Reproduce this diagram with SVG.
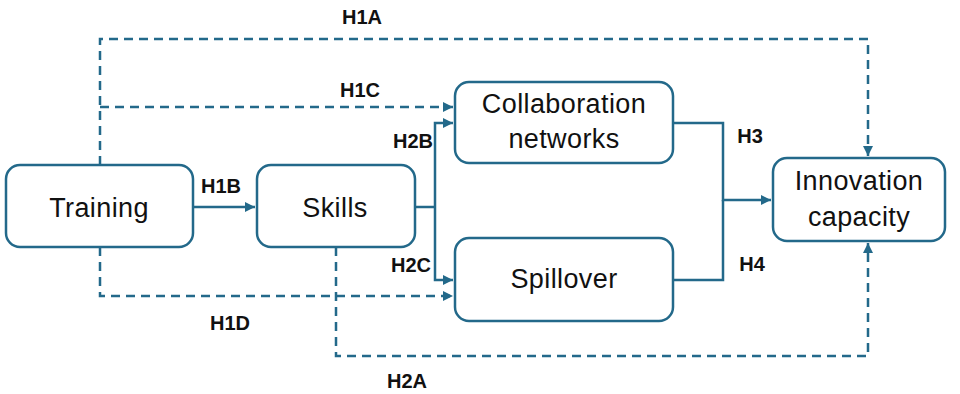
<svg xmlns="http://www.w3.org/2000/svg" width="960" height="394" viewBox="0 0 960 394">
<style>
.box{fill:#fff;stroke:#23698a;stroke-width:2.5}
.t{font-family:"Liberation Sans",Arial,sans-serif;font-size:27px;fill:#111;text-anchor:middle;letter-spacing:0.4px}
.l{font-family:"Liberation Sans",Arial,sans-serif;font-size:20px;font-weight:bold;fill:#111;text-anchor:middle}
.c{fill:none;stroke:#23698a;stroke-width:2.5}
.d{stroke-dasharray:9 6}
</style>
<defs>
<marker id="a" markerUnits="userSpaceOnUse" markerWidth="12" markerHeight="12" refX="10" refY="5" orient="auto">
<path d="M0,0 L10,5 L0,10 Z" fill="#23698a"/>
</marker>
</defs>
<g id="connectors">
<path class="c d" d="M100,165 V39 H868 V156" marker-end="url(#a)"/>
<path class="c d" d="M100,107 H453" marker-end="url(#a)"/>
<path class="c d" d="M100,247 V296 H453" marker-end="url(#a)"/>
<path class="c d" d="M336,247 V356 H868 V243" marker-end="url(#a)"/>
<path class="c" d="M193,207 H255" marker-end="url(#a)"/>
<path class="c" d="M415,207 H435"/>
<path class="c" d="M435,207 V123 H453" marker-end="url(#a)"/>
<path class="c" d="M435,207 V280 H453" marker-end="url(#a)"/>
<path class="c" d="M673,123 H723 V200 H771" marker-end="url(#a)"/>
<path class="c" d="M673,280 H723 V200"/>
</g>
<g id="labels">
<text class="l" x="362" y="24">H1A</text>
<text class="l" x="360" y="97">H1C</text>
<text class="l" x="413" y="148">H2B</text>
<text class="l" x="221" y="193">H1B</text>
<text class="l" x="411" y="272">H2C</text>
<text class="l" x="230" y="330">H1D</text>
<text class="l" x="407" y="388">H2A</text>
<text class="l" x="750" y="143">H3</text>
<text class="l" x="752" y="271">H4</text>
</g>
<g id="training">
<rect class="box" x="6" y="165" width="187" height="82" rx="14"/>
<text class="t" x="99" y="217">Training</text>
</g>
<g id="skills">
<rect class="box" x="257" y="165" width="158" height="82" rx="14"/>
<text class="t" x="335" y="217">Skills</text>
</g>
<g id="collaboration">
<rect class="box" x="455" y="82" width="218" height="81" rx="14"/>
<text class="t" x="564" y="113">Collaboration</text>
<text class="t" x="564" y="148">networks</text>
</g>
<g id="spillover">
<rect class="box" x="455" y="238" width="218" height="83" rx="14"/>
<text class="t" x="564" y="288">Spillover</text>
</g>
<g id="innovation">
<rect class="box" x="773" y="158" width="172" height="83" rx="14"/>
<text class="t" x="859" y="190">Innovation</text>
<text class="t" x="859" y="226">capacity</text>
</g>
</svg>
